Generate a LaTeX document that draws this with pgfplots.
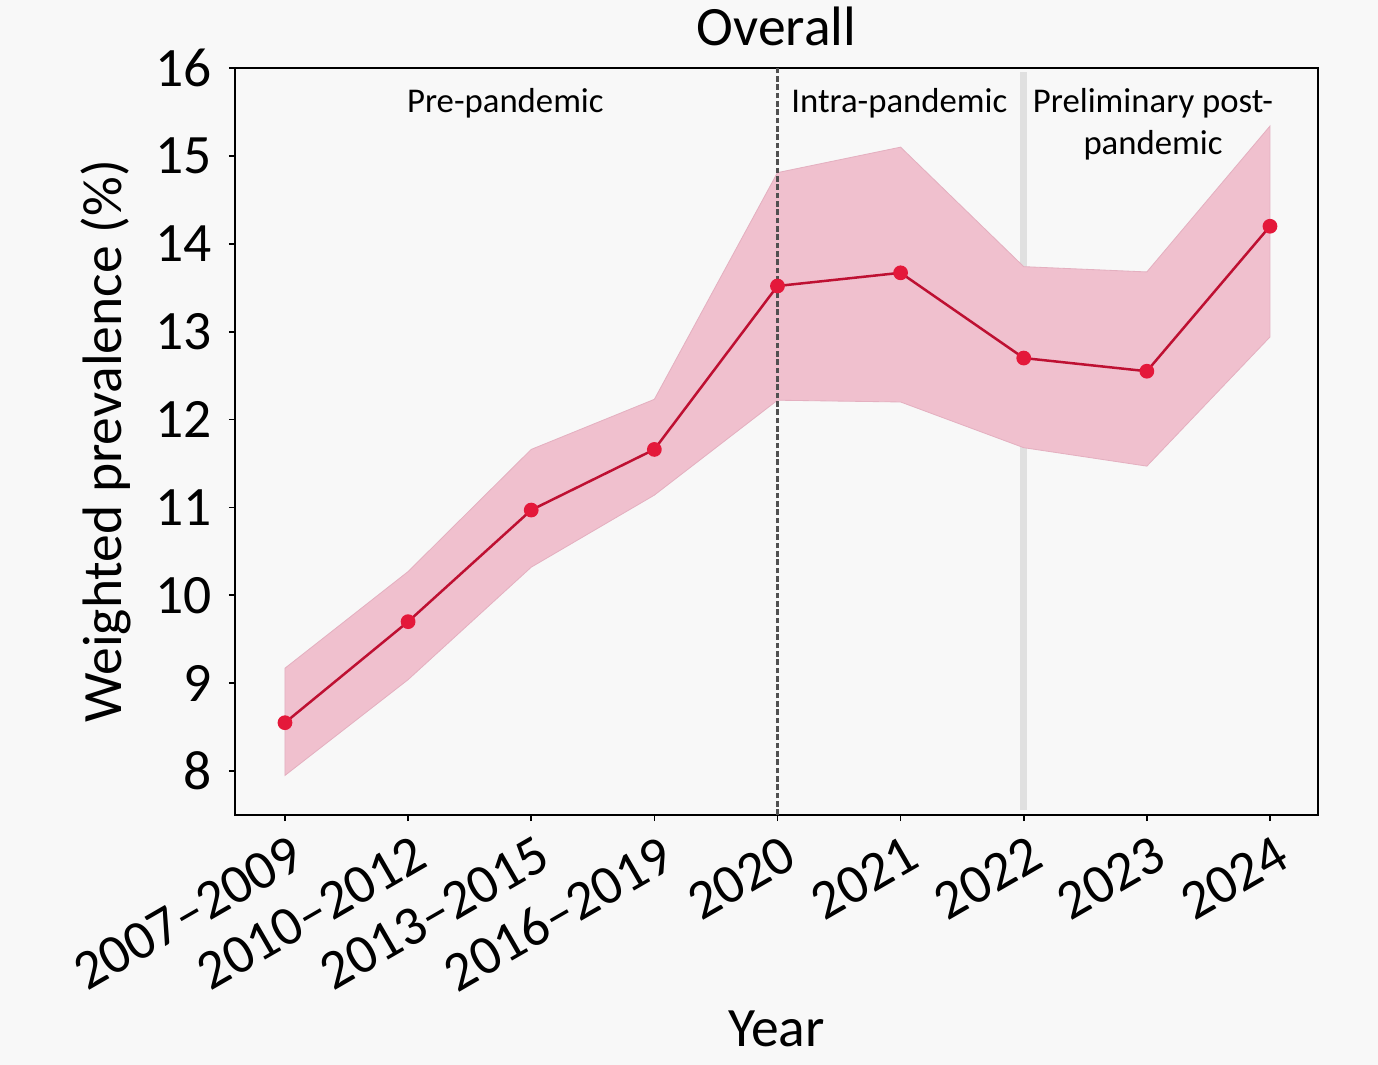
\documentclass[border=0pt]{standalone}
\usepackage{fontspec}
\setmainfont{Carlito}
\usepackage{pgfplots}
\pgfplotsset{compat=1.18}
\usetikzlibrary{backgrounds}
\definecolor{bg}{RGB}{248,248,248}
\definecolor{band}{RGB}{240,192,206}
\definecolor{bandedge}{RGB}{228,176,192}
\definecolor{linec}{RGB}{190,16,50}
\definecolor{markc}{RGB}{228,24,58}
\definecolor{dashc}{RGB}{80,80,80}
\definecolor{solidc}{RGB}{224,224,224}
\begin{document}
\begin{tikzpicture}[background rectangle/.style={fill=bg,draw=none}, show background rectangle, inner frame sep=0pt]
\begin{axis}[
  name=ax, scale only axis, width=389.9pt, height=268.9pt,
  xmin=-0.406, xmax=8.39, ymin=7.5, ymax=16,
  ytick={8,...,16}, xtick={0,...,8},
  xticklabels={2007--2009,2010--2012,2013--2015,2016--2019,2020,2021,2022,2023,2024},
  tick align=outside, tick pos=left, major tick length=2.2pt,
  tick style={black, line width=0.6pt},
  axis line style={line width=0.7pt},
  ticklabel style={font=\fontsize{20}{24}\selectfont},
  /pgf/number format/assume math mode=true,
  xticklabel style={rotate=30, anchor=north east, inner sep=1pt, yshift=-3.5pt},
  yticklabel style={inner sep=1pt, xshift=-5pt},
  axis background/.style={fill=bg},
  xlabel={Year},
  xlabel style={font=\fontsize{20}{24}\selectfont, at={([yshift=-83.5pt]axis description cs:0.5,0)}, anchor=base},
  ylabel={Weighted prevalence (\%)},
  ylabel style={font=\fontsize{20}{24}\selectfont, at={([xshift=-41pt]axis description cs:0,0.5)}, anchor=base, rotate=0},
  clip=false,
]
% light gray solid line at 2022 (behind band)
\addplot[solidc, line width=2.5pt, forget plot] coordinates {(6,7.56) (6,15.95)};
% confidence band
\addplot[fill=band, draw=bandedge, line width=0.3pt, forget plot] coordinates {
 (0,9.17) (1,10.27) (2,11.66) (3,12.23) (4,14.81) (5,15.10) (6,13.74) (7,13.68) (8,15.34)
 (8,12.94) (7,11.47) (6,11.68) (5,12.20) (4,12.22) (3,11.14) (2,10.32) (1,9.04) (0,7.95)} -- cycle;
% dashed line at 2020
\addplot[dashc, dashed, dash pattern=on 2pt off 1pt, line width=0.8pt, forget plot] coordinates {(4,7.5) (4,16)};
% mean line
\addplot[linec, line width=0.9pt, mark=*, mark size=2.2pt, mark options={fill=markc, draw=markc}] coordinates {
 (0,8.55) (1,9.70) (2,10.97) (3,11.66) (4,13.52) (5,13.67) (6,12.70) (7,12.55) (8,14.20)};
\node[font=\fontsize{12.5}{15}\selectfont, anchor=base] at (axis cs:1.79,15.49) {Pre-pandemic};
\node[font=\fontsize{12.5}{15}\selectfont, anchor=base] at (axis cs:4.99,15.49) {Intra-pandemic};
\node[font=\fontsize{12.5}{15}\selectfont, anchor=base] at (axis cs:7.05,15.49) {Preliminary post-};
\node[font=\fontsize{12.5}{15}\selectfont, anchor=base] at (axis cs:7.05,15.02) {pandemic};
\node[font=\fontsize{20}{24}\selectfont, anchor=base, yshift=8pt] at (axis description cs:0.5,1) {Overall};
\end{axis}
\pgfresetboundingbox
\useasboundingbox ([shift={(-84.6pt,-90pt)}]ax.south west) rectangle ([shift={(411.5pt,293.4pt)}]ax.south west);
\end{tikzpicture}
\end{document}
